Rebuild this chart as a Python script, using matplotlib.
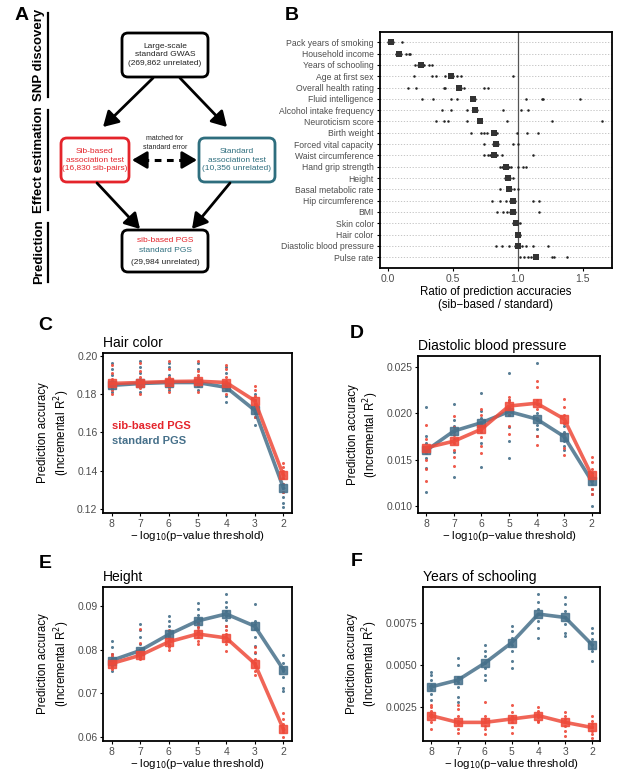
import numpy as np
import matplotlib
matplotlib.use("Agg")
import matplotlib.pyplot as plt
from matplotlib.patches import FancyBboxPatch, FancyArrowPatch

plt.rcParams["font.family"] = ["Liberation Sans", "DejaVu Sans"]

W, H = 617, 775
RED = "#EE4A3A"
BLUE = "#46708A"
RED_BOX = "#E4242B"
BLUE_BOX = "#2E6E7E"
TICK_GREY = "#4D4D4D"

# ---- panel B data : ratio of prediction accuracies -----------------------------
traits = ["Pack years of smoking", "Household income", "Years of schooling",
          "Age at first sex", "Overall health rating", "Fluid intelligence",
          "Alcohol intake frequency", "Neuroticism score", "Birth weight",
          "Forced vital capacity", "Waist circumference", "Hand grip strength",
          "Height", "Basal metabolic rate", "Hip circumference", "BMI",
          "Skin color", "Hair color", "Diastolic blood pressure", "Pulse rate"]
ratio_mid = [0.026, 0.09, 0.256, 0.487, 0.544, 0.654, 0.672, 0.71, 0.82, 0.83,
             0.82, 0.91, 0.925, 0.935, 0.96, 0.965, 0.985, 1.005, 1.005, 1.14]
ratio_pts = [
    [0.0, 0.01, 0.03, 0.04, 0.108],
    [0.064, 0.075, 0.1, 0.14, 0.16, 0.17],
    [0.21, 0.23, 0.27, 0.28, 0.32, 0.34],
    [0.205, 0.338, 0.37, 0.44, 0.5, 0.53, 0.56, 0.96],
    [0.159, 0.215, 0.43, 0.44, 0.56, 0.587, 0.744, 0.774],
    [0.26, 0.346, 0.487, 0.53, 0.64, 0.67, 1.06, 1.185, 1.197, 1.48],
    [0.42, 0.487, 0.607, 0.69, 0.89, 1.023, 1.08],
    [0.37, 0.43, 0.467, 0.613, 0.72, 0.915, 1.26, 1.646],
    [0.64, 0.72, 0.74, 0.76, 0.84, 0.992, 1.074, 1.154],
    [0.744, 0.81, 0.85, 0.96, 1.0],
    [0.74, 0.77, 0.79, 0.84, 0.88, 1.12],
    [0.86, 0.88, 0.93, 0.95, 1.0, 1.04, 1.06],
    [0.90, 0.94, 0.96],
    [0.86, 0.95, 0.97, 1.0],
    [0.80, 0.86, 0.91, 0.94, 0.98, 1.12, 1.16],
    [0.84, 0.89, 0.92, 0.94, 0.98, 1.16],
    [0.96, 0.975, 1.0, 1.02],
    [0.99, 1.01, 1.02],
    [0.83, 0.88, 0.93, 0.98, 1.03, 1.06, 1.12, 1.23],
    [1.02, 1.05, 1.08, 1.10, 1.26, 1.28, 1.38],
]

# ---- panels C-F data : accuracy vs p-value threshold ---------------------------
thresholds = ["8", "7", "6", "5", "4", "3", "2"]

hair_sib = [0.1855, 0.186, 0.1865, 0.1867, 0.186, 0.1765, 0.1375]
hair_std = [0.1845, 0.1855, 0.186, 0.186, 0.1835, 0.1715, 0.131]
hair_sib_pts = [[0.180, 0.182, 0.184, 0.186, 0.188, 0.191, 0.195],
                [0.180, 0.183, 0.185, 0.187, 0.189, 0.192, 0.196],
                [0.181, 0.183, 0.185, 0.187, 0.189, 0.193, 0.197],
                [0.181, 0.184, 0.186, 0.188, 0.190, 0.192, 0.197],
                [0.180, 0.183, 0.185, 0.187, 0.189, 0.193, 0.195],
                [0.168, 0.172, 0.175, 0.177, 0.179, 0.182, 0.184],
                [0.129, 0.133, 0.136, 0.138, 0.140, 0.142, 0.144]]
hair_std_pts = [[0.181, 0.183, 0.185, 0.187, 0.190, 0.193, 0.196],
                [0.181, 0.184, 0.186, 0.188, 0.191, 0.194, 0.197],
                [0.182, 0.184, 0.186, 0.188, 0.190, 0.194, 0.196],
                [0.182, 0.184, 0.185, 0.187, 0.189, 0.193, 0.196],
                [0.176, 0.179, 0.182, 0.184, 0.186, 0.191, 0.194],
                [0.164, 0.168, 0.170, 0.172, 0.174, 0.177, 0.180],
                [0.121, 0.123, 0.126, 0.129, 0.131, 0.133, 0.136]]

dbp_sib = [0.0163, 0.0170, 0.0183, 0.0208, 0.0211, 0.0194, 0.0133]
dbp_std = [0.0160, 0.0181, 0.0190, 0.0202, 0.0194, 0.0175, 0.0127]
dbp_sib_pts = [[0.0127, 0.0140, 0.0150, 0.0157, 0.0163, 0.0172, 0.0187],
               [0.0143, 0.0153, 0.0160, 0.0168, 0.0177, 0.0185, 0.0197],
               [0.0157, 0.0165, 0.0175, 0.0182, 0.0190, 0.0198, 0.0205],
               [0.0178, 0.0186, 0.0198, 0.0205, 0.0212, 0.0215, 0.0218],
               [0.0166, 0.0176, 0.0195, 0.0205, 0.0215, 0.0228, 0.0235],
               [0.0155, 0.0163, 0.0178, 0.0190, 0.0198, 0.0207, 0.0216],
               [0.0113, 0.0118, 0.0127, 0.0133, 0.0140, 0.0148, 0.0153]]
dbp_std_pts = [[0.0115, 0.0141, 0.0152, 0.0160, 0.0168, 0.0176, 0.0207],
               [0.0131, 0.0158, 0.0172, 0.0180, 0.0186, 0.0193, 0.0210],
               [0.0142, 0.0168, 0.0180, 0.0188, 0.0195, 0.0203, 0.0222],
               [0.0152, 0.0170, 0.0185, 0.0198, 0.0207, 0.0214, 0.0244],
               [0.0176, 0.0183, 0.0188, 0.0193, 0.0201, 0.0210, 0.0254],
               [0.0160, 0.0165, 0.0170, 0.0174, 0.0180, 0.0186, 0.0190],
               [0.0100, 0.0113, 0.0118, 0.0124, 0.0128, 0.0132, 0.0136]]

height_sib = [0.0768, 0.0787, 0.0818, 0.0836, 0.0827, 0.0768, 0.0617]
height_std = [0.0775, 0.0798, 0.0835, 0.0866, 0.0882, 0.0854, 0.0754]
height_sib_pts = [[0.0755, 0.0762, 0.0767, 0.0772, 0.0778, 0.0785, 0.0790],
                  [0.0778, 0.0782, 0.0786, 0.0792, 0.0800, 0.0815, 0.0848],
                  [0.0800, 0.0806, 0.0813, 0.0820, 0.0828, 0.0835, 0.0845],
                  [0.0812, 0.0820, 0.0828, 0.0836, 0.0845, 0.0852, 0.0862],
                  [0.0797, 0.0812, 0.0820, 0.0828, 0.0835, 0.0845, 0.0855],
                  [0.0742, 0.0752, 0.0762, 0.0770, 0.0778, 0.0795, 0.0805],
                  [0.0600, 0.0610, 0.0615, 0.0620, 0.0628, 0.0640, 0.0655]]
height_std_pts = [[0.0750, 0.0762, 0.0770, 0.0778, 0.0790, 0.0805, 0.0820],
                  [0.0782, 0.0790, 0.0800, 0.0812, 0.0830, 0.0845, 0.0860],
                  [0.0810, 0.0822, 0.0832, 0.0842, 0.0855, 0.0865, 0.0878],
                  [0.0840, 0.0852, 0.0862, 0.0872, 0.0880, 0.0893, 0.0908],
                  [0.0855, 0.0868, 0.0878, 0.0888, 0.0898, 0.0910, 0.0928],
                  [0.0792, 0.0808, 0.0830, 0.0848, 0.0858, 0.0865, 0.0905],
                  [0.0705, 0.0712, 0.0738, 0.0750, 0.0758, 0.0770, 0.0788]]

school_sib = [0.0020, 0.0016, 0.0016, 0.0018, 0.0020, 0.0016, 0.0013]
school_std = [0.0037, 0.0041, 0.0051, 0.0063, 0.0080, 0.0078, 0.0062]
school_sib_pts = [[0.0012, 0.0016, 0.0019, 0.0021, 0.0023, 0.0025, 0.0026],
                  [0.0010, 0.0012, 0.0015, 0.0017, 0.0020, 0.0024, 0.0026],
                  [0.0009, 0.0012, 0.0014, 0.0016, 0.0018, 0.0020, 0.0028],
                  [0.0010, 0.0013, 0.0016, 0.0018, 0.0020, 0.0022, 0.0026],
                  [0.0016, 0.0017, 0.0019, 0.0020, 0.0021, 0.0023, 0.0025],
                  [0.0008, 0.0011, 0.0014, 0.0016, 0.0018, 0.0020, 0.0022],
                  [0.0007, 0.0009, 0.0011, 0.0013, 0.0015, 0.0017, 0.0020]]
school_std_pts = [[0.0029, 0.0033, 0.0036, 0.0038, 0.0041, 0.0044, 0.0046],
                  [0.0028, 0.0031, 0.0037, 0.0040, 0.0043, 0.0050, 0.0054],
                  [0.0041, 0.0044, 0.0048, 0.0051, 0.0055, 0.0058, 0.0062],
                  [0.0048, 0.0052, 0.0058, 0.0062, 0.0066, 0.0070, 0.0073],
                  [0.0066, 0.0072, 0.0076, 0.0080, 0.0083, 0.0087, 0.0092],
                  [0.0067, 0.0069, 0.0074, 0.0078, 0.0082, 0.0086, 0.0090],
                  [0.0052, 0.0058, 0.0060, 0.0062, 0.0065, 0.0069, 0.0072]]


def ax_px(left, top, right, bottom):
    return fig.add_axes([left / W, 1 - bottom / H, (right - left) / W, (bottom - top) / H])


fig = plt.figure(figsize=(W / 100, H / 100), dpi=100)

# ---- overlay for panel A + letters (pixel coords) -------------------------------
ov = fig.add_axes([0, 0, 1, 1])
ov.set_xlim(0, W); ov.set_ylim(H, 0); ov.axis("off")

for lab, x, y in [("A", 22, 15), ("B", 292, 15), ("C", 45, 325),
                  ("D", 357, 333), ("E", 45, 563), ("F", 357, 562)]:
    ov.text(x, y, lab, fontsize=14, fontweight="bold", ha="center", va="center")

for txt, yc, y0, y1 in [("SNP discovery", 55, 13, 97),
                        ("Effect estimation", 160, 110, 210),
                        ("Prediction", 252, 223, 282)]:
    ov.text(39, yc, txt, rotation=90, fontsize=9.5, fontweight="bold",
            ha="center", va="center")
    ov.plot([48, 48], [y0, y1], color="black", lw=1.6)


def box(x0, y0, x1, y1, ec):
    ov.add_patch(FancyBboxPatch((x0, y0), x1 - x0, y1 - y0,
                                boxstyle="round,pad=0,rounding_size=6",
                                fc="white", ec=ec, lw=2))


box(122, 33, 208, 77, "black")
ov.text(165, 55, "Large-scale\nstandard GWAS\n(269,862 unrelated)", fontsize=6,
        ha="center", va="center", linespacing=1.35, color="#222222")
box(61, 138, 129, 182, RED_BOX)
ov.text(95, 160, "Sib-based\nassociation test\n(16,830 sib-pairs)", fontsize=6,
        ha="center", va="center", linespacing=1.35, color=RED_BOX)
box(199, 138, 275, 182, BLUE_BOX)
ov.text(237, 160, "Standard\nassociation test\n(10,356 unrelated)", fontsize=6,
        ha="center", va="center", linespacing=1.35, color=BLUE_BOX)
box(122, 230, 208, 272, "black")
ov.text(165, 240, "sib-based PGS", fontsize=6, ha="center", va="center", color=RED_BOX)
ov.text(165, 251, "standard PGS", fontsize=6, ha="center", va="center", color=BLUE_BOX)
ov.text(165, 262, "(29,984 unrelated)", fontsize=6, ha="center", va="center", color="#222222")

for (xa, ya), (xb, yb) in [((153, 78), (103, 127)), ((180, 78), (227, 127)),
                           ((97, 183), (140, 229)), ((230, 183), (192, 229))]:
    ov.add_patch(FancyArrowPatch((xa, ya), (xb, yb), arrowstyle="-|>,head_length=6,head_width=3.5",
                                 mutation_scale=1.5, lw=2, color="black", shrinkA=0, shrinkB=0))
ov.plot([142, 187], [160, 160], color="black", lw=2.2, ls=(0, (2.2, 1.8)))
for xa, xb in [(142, 132), (187, 197)]:
    ov.add_patch(FancyArrowPatch((xa, 160), (xb, 160), arrowstyle="-|>,head_length=6,head_width=3.5",
                                 mutation_scale=1.5, lw=2, color="black", shrinkA=0, shrinkB=0))
ov.text(165, 143, "matched for\nstandard error", fontsize=5, ha="center", va="center",
        linespacing=1.3, color="#222222")

# ---- panel B --------------------------------------------------------------------
axb = ax_px(380, 32, 612, 268)
ypos = np.arange(len(traits))
for i in ypos:
    axb.axhline(i, color="#BBBBBB", lw=0.6, ls=(0, (1.5, 2)), zorder=0)
axb.axvline(1.0, color="#555555", lw=0.9, zorder=1)
for i, pts in enumerate(ratio_pts):
    axb.plot(pts, [i] * len(pts), "o", ms=1.8, color="#222222", mew=0, zorder=2)
axb.plot(ratio_mid, ypos, "s", ms=5, color="#333333", mew=0, zorder=3)
axb.set_yticks(ypos)
axb.set_yticklabels(traits, fontsize=6.2, color=TICK_GREY)
axb.set_ylim(19.95, -0.91)
axb.set_xlim(-0.06, 1.725)
axb.set_xticks([0.0, 0.5, 1.0, 1.5])
axb.set_xticklabels(["0.0", "0.5", "1.0", "1.5"], fontsize=7.5, color=TICK_GREY)
axb.tick_params(length=2.5, width=0.8, pad=2)
for s in axb.spines.values():
    s.set_linewidth(1.3)
axb.set_xlabel("Ratio of prediction accuracies\n(sib\u2212based / standard)", fontsize=8.3,
               labelpad=1, linespacing=1.15)


# ---- panels C-F -----------------------------------------------------------------
def line_panel(rect, title, sib, std, sib_pts, std_pts, ylim, yticks, yfmt):
    ax = ax_px(*rect)
    x = np.arange(len(thresholds))
    for series, pts, col in [(std, std_pts, BLUE), (sib, sib_pts, RED)]:
        for xi, p in zip(x, pts):
            ax.plot([xi] * len(p), p, "o", ms=2.2, color=col, mew=0, alpha=0.9, zorder=2)
    ax.plot(x, std, "-s", color=BLUE, lw=2.6, ms=6, alpha=0.85, zorder=3)
    ax.plot(x, sib, "-s", color=RED, lw=2.6, ms=6, alpha=0.85, zorder=4)
    ax.set_xlim(-0.3, 6.3)
    ax.set_xticks(x)
    ax.set_xticklabels(thresholds, fontsize=7.5, color=TICK_GREY)
    ax.set_ylim(*ylim)
    ax.set_yticks(yticks)
    ax.set_yticklabels([yfmt.format(v) for v in yticks], fontsize=7.5, color=TICK_GREY)
    ax.tick_params(length=2.5, width=0.8, pad=1.5)
    for s in ax.spines.values():
        s.set_linewidth(1.3)
    ax.set_title(title, loc="left", fontsize=10, pad=4)
    ax.set_xlabel("\u2212 log$_{10}$(p\u2212value threshold)", fontsize=8.2, labelpad=0)
    ax.set_ylabel("Prediction accuracy\n(Incremental R$^2$)", fontsize=8.3, labelpad=4,
                  linespacing=1.2)
    return ax


axc = line_panel((103, 353, 292, 513), "Hair color", hair_sib, hair_std,
                 hair_sib_pts, hair_std_pts, (0.1179, 0.2014),
                 [0.12, 0.14, 0.16, 0.18, 0.20], "{:.2f}")
axc.text(0.05, 0.545, "sib-based PGS", transform=axc.transAxes, color=RED_BOX,
         fontsize=8, fontweight="bold", va="center")
axc.text(0.05, 0.45, "standard PGS", transform=axc.transAxes, color=BLUE,
         fontsize=8, fontweight="bold", va="center")

line_panel((418, 356, 600, 513), "Diastolic blood pressure", dbp_sib, dbp_std,
           dbp_sib_pts, dbp_std_pts, (0.00925, 0.0262),
           [0.010, 0.015, 0.020, 0.025], "{:.3f}")
line_panel((103, 587, 292, 741), "Height", height_sib, height_std,
           height_sib_pts, height_std_pts, (0.059, 0.0944),
           [0.06, 0.07, 0.08, 0.09], "{:.2f}")
line_panel((423, 587, 600, 741), "Years of schooling", school_sib, school_std,
           school_sib_pts, school_std_pts, (0.0005, 0.0096),
           [0.0025, 0.0050, 0.0075], "{:.4f}")

fig.savefig("out.png", dpi=100)
